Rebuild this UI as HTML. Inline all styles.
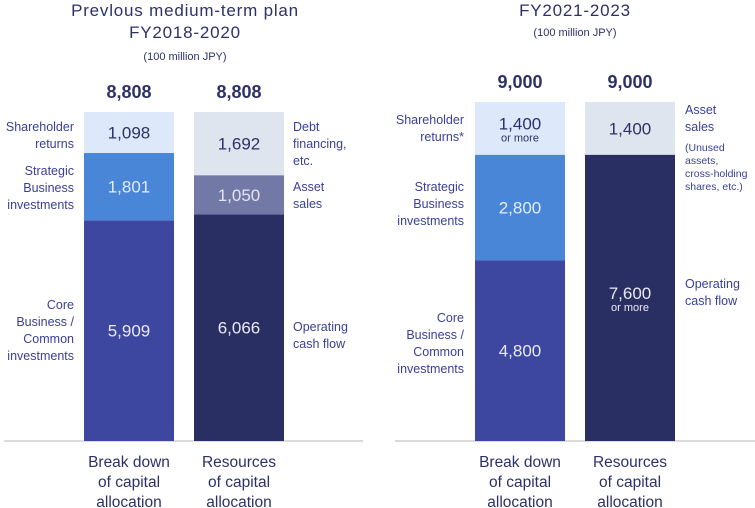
<!DOCTYPE html>
<html><head><meta charset="utf-8"><style>
body{margin:0;background:#fff;width:755px;height:508px;overflow:hidden;font-family:"Liberation Sans",sans-serif}
svg{display:block}
</style></head><body>
<svg id="c" width="755" height="508" xmlns="http://www.w3.org/2000/svg">
<g font-family="Liberation Sans, sans-serif" fill="#2d3168" text-anchor="middle">
<text x="185" y="16" font-size="17" letter-spacing="0.8">Prevlous medium-term plan</text>
<text x="185" y="38" font-size="17" letter-spacing="0.8">FY2018-2020</text>
<text x="185" y="60" font-size="11">(100 million JPY)</text>
<text x="575" y="16" font-size="17" letter-spacing="0.8">FY2021-2023</text>
<text x="575" y="36" font-size="11">(100 million JPY)</text>
</g>
<line x1="4" y1="441" x2="363" y2="441" stroke="#cfcfd4" stroke-width="1.5"/>
<line x1="395" y1="441" x2="755" y2="441" stroke="#cfcfd4" stroke-width="1.5"/>
<g id="marks"></g>
</svg>
<script>
const panelTotals=[8808,9000];
const bar1Values=[[5909,1801,1098],[4800,2800,1400]];
const bar2Values=[[6066,1050,1692],[7600,1400]];
const bar1Labels=[["5,909","1,801","1,098"],["4,800","2,800","1,400"]];
const bar2Labels=[["6,066","1,050","1,692"],["7,600","1,400"]];
const totalLabels=["8,808","9,000"];
const orMore1=[[false,false,false],[false,false,true]];
const orMore2=[[false,false,false],[true,false]];
const bar1Colors=["#3d479f","#4a86d8","#dde9fb"];
const bar1Text=["#e8eaf6","#e3ecfa","#2d3168"];
const bar2ColorsSet=[["#2a2f63","#7379a6","#dfe5ef"],["#2a2f63","#dfe5ef"]];
const bar2TextSet=[["#e8eaf6","#e3e5f0","#2d3168"],["#e8eaf6","#2d3168"]];
const panels=[{x1:84,x2:194,top:112},{x1:475,x2:585,top:102}];
const base=441,bw=90;
const NS="http://www.w3.org/2000/svg";
const g=document.getElementById('marks');
function el(t,a,txt){const e=document.createElementNS(NS,t);for(const k in a)e.setAttribute(k,a[k]);if(txt!==undefined)e.textContent=txt;g.appendChild(e);return e;}
function yScale(p,v){return (base-panels[p].top)*v/panelTotals[p];}
function drawBar(p,x,vals,labels,colors,tcols,om,name){
  let y=base;
  vals.forEach((v,i)=>{
    const h=yScale(p,v);y-=h;
    const r=el('rect',{x:x,y:y,width:bw,height:h,fill:colors[i]});
    
    
    const cy=y+h/2;
    const t=el('text',{x:x+bw/2,y:om[i]?cy+1:cy+6,'font-size':17,fill:tcols[i],'text-anchor':'middle'},labels[i]);
    
    
    if(om[i]){const o=el('text',{x:x+bw/2,y:cy+13,'font-size':11,fill:tcols[i],'text-anchor':'middle'},'or more');
      
      }
  });
  const tt=el('text',{x:x+bw/2,y:y-14,'font-size':18,'font-weight':'bold',fill:'#2d3168','text-anchor':'middle'},totalLabels[p]);
  
  
}
for(let p=0;p<2;p++){
  drawBar(p,panels[p].x1,bar1Values[p],bar1Labels[p],bar1Colors,bar1Text,orMore1[p],'p'+p+'-breakdown');
  drawBar(p,panels[p].x2,bar2Values[p],bar2Labels[p],bar2ColorsSet[p],bar2TextSet[p],orMore2[p],'p'+p+'-resources');
}
function lines(x,y,arr,anchor,size,lh,name){
  arr.forEach((s,i)=>{const t=el('text',{x:x,y:y+i*lh,'font-size':size,fill:'#3a3f99','text-anchor':anchor},s);
    
    });
}
lines(74,131,["Shareholder","returns"],'end',12.5,17,'label-shareholder-returns');
lines(74,175,["Strategic","Business","investments"],'end',12.5,17,'label-strategic');
lines(74,309,["Core","Business /","Common","investments"],'end',12.5,17,'label-core');
lines(293,131,["Debt","financing,","etc."],'start',12.5,17,'label-debt');
lines(293,191,["Asset","sales"],'start',12.5,17,'label-asset-sales');
lines(293,331,["Operating","cash flow"],'start',12.5,17,'label-operating');
lines(464,124,["Shareholder","returns*"],'end',12.5,17,'label-shareholder-returns-2');
lines(464,191,["Strategic","Business","investments"],'end',12.5,17,'label-strategic-2');
lines(464,322,["Core","Business /","Common","investments"],'end',12.5,17,'label-core-2');
lines(685,114,["Asset","sales"],'start',12.5,17,'label-asset-sales-2');
lines(685,151,["(Unused","assets,","cross-holding","shares, etc.)"],'start',10.5,13,'label-asset-note');
lines(685,288,["Operating","cash flow"],'start',12.5,17,'label-operating-2');
function cat(x,arr,name){arr.forEach((s,i)=>{const t=el('text',{x:x,y:467+i*20,'font-size':15.5,fill:'#2d3168','text-anchor':'middle'},s);
  
  });}
cat(129,["Break down","of capital","allocation"],'category-breakdown');
cat(239,["Resources","of capital","allocation"],'category-resources');
cat(520,["Break down","of capital","allocation"],'category-breakdown-2');
cat(630,["Resources","of capital","allocation"],'category-resources-2');
</script>
</body></html>
